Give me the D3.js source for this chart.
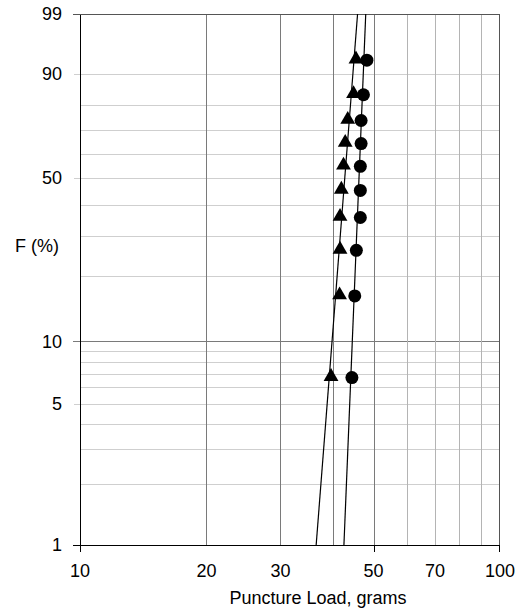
<!DOCTYPE html>
<html>
<head>
<meta charset="utf-8">
<script src="https://cdn.jsdelivr.net/npm/d3@7"></script>
<style>
  body { margin: 0; background: #fff; }
  text { font-family: "Liberation Sans", Arial, sans-serif; fill: #000; }
</style>
</head>
<body>
<div id="chart"></div>
<script>
// median ranks (F, %) shared by both samples
const rankF = [6.7, 16.3, 26.0, 35.6, 45.2, 54.8, 64.4, 74.0, 83.7, 93.3];
// puncture loads, grams (sorted)
const triangleLoads = [39.6, 41.5, 41.6, 41.6, 41.9, 42.4, 42.8, 43.4, 44.8, 45.4];
const circleLoads = [44.4, 45.1, 45.5, 46.5, 46.5, 46.5, 46.7, 46.7, 47.3, 48.2];
// fitted lines: load at F = 1% and F = 99%
const triangleFit = [36.5, 45.8];
const circleFit = [42.5, 47.9];

const xTickLabels = [10, 20, 30, 50, 70, 100];
const xTickMarks = [10, 50, 100];
const xGridDark = [20, 30, 40, 50];
const xGridLight = [60, 70, 80, 90];
const yTickLabels = [1, 5, 10, 50, 90, 99];
const yGrid = [2, 3, 4, 5, 6, 7, 8, 9, 20, 30, 40, 50, 60, 70, 80, 90];

const width = 532, height = 612;
const margin = {top: 14, right: 32, bottom: 67, left: 80};
const plotW = width - margin.left - margin.right;
const plotH = height - margin.top - margin.bottom;

// weibull probability transform
const wb = f => Math.log(-Math.log(1 - f / 100));

const x = d3.scaleLog().domain([10, 100]).range([0, plotW]);
const y = d3.scaleLinear().domain([wb(1), wb(99)]).range([plotH, 0]);

const svg = d3.select("#chart").append("svg")
    .attr("width", width)
    .attr("height", height);

const g = svg.append("g")
    .attr("transform", `translate(${margin.left},${margin.top})`);

svg.append("defs").append("clipPath").attr("id", "clip")
    .append("rect").attr("width", plotW).attr("height", plotH);

// horizontal grid
g.append("g").selectAll("line")
    .data(yGrid)
    .join("line")
    .attr("x1", d => yTickLabels.includes(d) ? -6 : 0)
    .attr("x2", plotW)
    .attr("y1", d => Math.round(y(wb(d))) + 0.5)
    .attr("y2", d => Math.round(y(wb(d))) + 0.5)
    .attr("stroke", "#cfcfcf");

// 10% line is darker
g.append("line")
    .attr("x1", -7).attr("x2", plotW)
    .attr("y1", Math.round(y(wb(10))) + 0.5)
    .attr("y2", Math.round(y(wb(10))) + 0.5)
    .attr("stroke", "#7a7a7a");

// vertical grid
g.append("g").selectAll("line")
    .data(xGridLight)
    .join("line")
    .attr("x1", d => Math.round(x(d)) + 0.5)
    .attr("x2", d => Math.round(x(d)) + 0.5)
    .attr("y1", 0).attr("y2", plotH)
    .attr("stroke", "#b4b4b4");

g.append("g").selectAll("line")
    .data(xGridDark)
    .join("line")
    .attr("x1", d => Math.round(x(d)) + 0.5)
    .attr("x2", d => Math.round(x(d)) + 0.5)
    .attr("y1", 0).attr("y2", plotH)
    .attr("stroke", "#7a7a7a");

// frame: left, bottom, top, right
g.append("line").attr("x1", 0.5).attr("x2", 0.5).attr("y1", 0).attr("y2", plotH).attr("stroke", "#000");
g.append("line").attr("x1", -7).attr("x2", plotW).attr("y1", plotH + 0.5).attr("y2", plotH + 0.5).attr("stroke", "#000");
g.append("line").attr("x1", -7).attr("x2", plotW).attr("y1", 0.5).attr("y2", 0.5).attr("stroke", "#555");
g.append("line").attr("x1", plotW - 0.5).attr("x2", plotW - 0.5).attr("y1", 0).attr("y2", plotH).attr("stroke", "#555");

// x tick marks
g.append("g").selectAll("line")
    .data(xTickMarks)
    .join("line")
    .attr("x1", d => Math.round(x(d)) + 0.5 - (d === 100 ? 1 : 0))
    .attr("x2", d => Math.round(x(d)) + 0.5 - (d === 100 ? 1 : 0))
    .attr("y1", plotH).attr("y2", plotH + 7)
    .attr("stroke", "#000");

// tick labels
g.append("g").selectAll("text")
    .data(xTickLabels)
    .join("text")
    .attr("x", d => x(d))
    .attr("y", plotH + 32)
    .attr("text-anchor", "middle")
    .style("font-size", "18px")
    .text(d => d);

g.append("g").selectAll("text")
    .data(yTickLabels)
    .join("text")
    .attr("x", -18)
    .attr("y", d => y(wb(d)))
    .attr("dy", "0.35em")
    .attr("text-anchor", "end")
    .style("font-size", "18px")
    .text(d => d);

// axis titles
svg.append("text")
    .attr("x", 318).attr("y", 604)
    .attr("text-anchor", "middle")
    .style("font-size", "18px")
    .text("Puncture Load, grams");

svg.append("text")
    .attr("x", 37).attr("y", 246)
    .attr("dy", "0.35em")
    .attr("text-anchor", "middle")
    .style("font-size", "18px")
    .text("F (%)");

// fit lines
const plot = g.append("g").attr("clip-path", "url(#clip)");
[triangleFit, circleFit].forEach(fit => {
    plot.append("line")
        .attr("x1", x(fit[0])).attr("y1", y(wb(1)))
        .attr("x2", x(fit[1])).attr("y2", y(wb(99)))
        .attr("stroke", "#000")
        .attr("stroke-width", 1.2);
});

// markers
const tri = d3.symbol().type(d3.symbolTriangle).size(95);
g.append("g").selectAll("path")
    .data(triangleLoads)
    .join("path")
    .attr("d", tri)
    .attr("transform", (d, i) => `translate(${x(d)},${y(wb(rankF[i])) - 1})`)
    .attr("fill", "#000");

g.append("g").selectAll("circle")
    .data(circleLoads)
    .join("circle")
    .attr("cx", d => x(d))
    .attr("cy", (d, i) => y(wb(rankF[i])))
    .attr("r", 6.5)
    .attr("fill", "#000");
</script>
</body>
</html>
